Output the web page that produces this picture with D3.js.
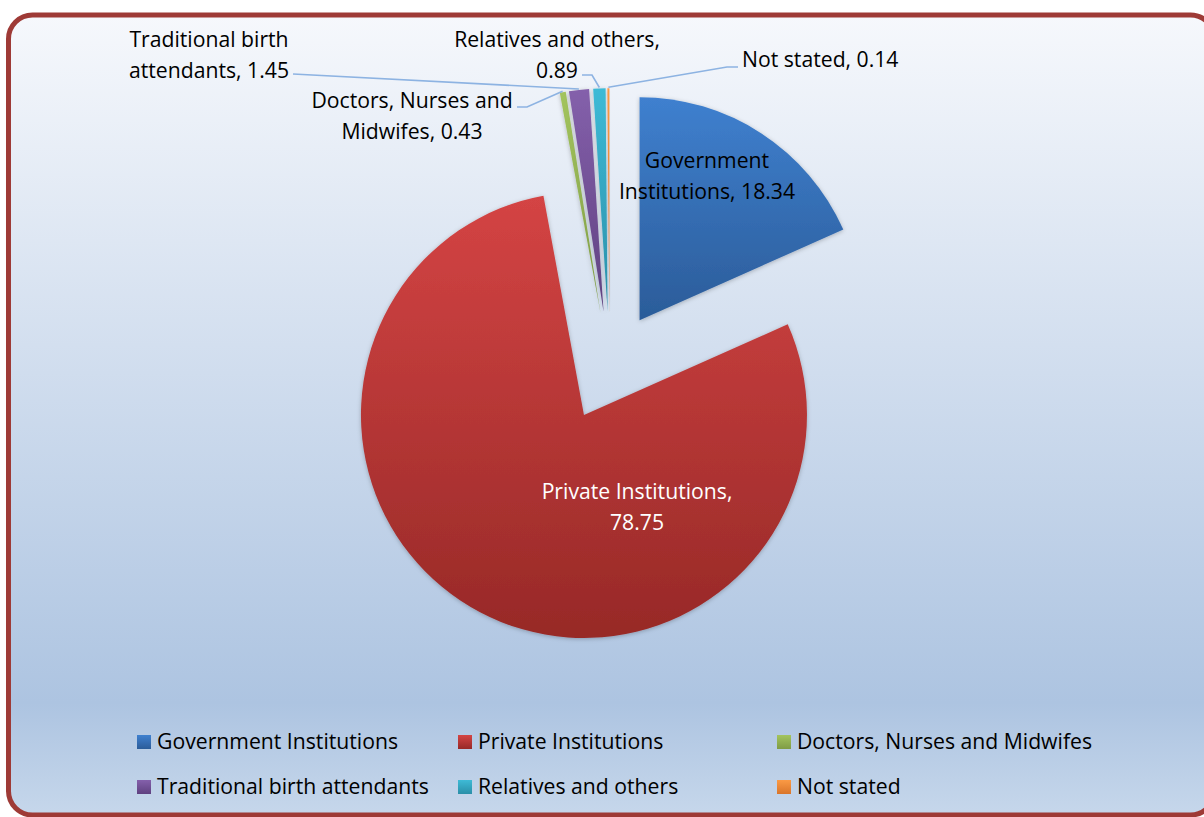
<!DOCTYPE html>
<html>
<head>
<meta charset="utf-8">
<script src="https://cdn.jsdelivr.net/npm/d3@7"></script>
<style>
  html, body { margin: 0; padding: 0; background: #ffffff; }
  svg { display: block; }
  text { font-family: "Open Sans", "Noto Sans", sans-serif; fill: #000; }
</style>
</head>
<body>
<svg id="chart" width="1204" height="817"></svg>
<script>
// ---- data ----
const categories = ["Government Institutions", "Private Institutions", "Doctors, Nurses and Midwifes",
                    "Traditional birth attendants", "Relatives and others", "Not stated"];
const values = [18.34, 78.75, 0.43, 1.45, 0.89, 0.14];
const labelLines = [
  ["Government", "Institutions, 18.34"],
  ["Private Institutions,", "78.75"],
  ["Doctors, Nurses and", "Midwifes, 0.43"],
  ["Traditional birth", "attendants, 1.45"],
  ["Relatives and others,", "0.89"],
  ["Not stated, 0.14"]
];
const colors = [
  ["#3f80cf", "#2b5c99"],
  ["#d44444", "#972927"],
  ["#a3c45e", "#7f9c45"],
  ["#8460ab", "#5f4180"],
  ["#3ebad6", "#2a8fa8"],
  ["#fb9a45", "#d9752a"]
];

// ---- layout ----
const W = 1204, H = 817;
const cx = 609.6, cy = 366.3, R = 223, explode = 55;
const fontSize = 21.2;

const svg = d3.select("#chart");
const defs = svg.append("defs");

// background gradient
const bg = defs.append("linearGradient").attr("id", "bg").attr("x1", 0).attr("y1", 0).attr("x2", 0).attr("y2", 1);
bg.append("stop").attr("offset", 0).attr("stop-color", "#f6f8fc");
bg.append("stop").attr("offset", 0.86).attr("stop-color", "#adc4e1");
bg.append("stop").attr("offset", 1).attr("stop-color", "#c6d7eb");

colors.forEach((c, i) => {
  const g = defs.append("linearGradient").attr("id", "g" + i)
    .attr("x1", 0).attr("y1", 0).attr("x2", 0).attr("y2", 1);
  g.append("stop").attr("offset", 0).attr("stop-color", c[0]);
  g.append("stop").attr("offset", 1).attr("stop-color", c[1]);
});

const f = defs.append("filter").attr("id", "shadow").attr("x", -0.2).attr("y", -0.2).attr("width", 1.4).attr("height", 1.4);
f.append("feDropShadow").attr("dx", 0).attr("dy", 1).attr("stdDeviation", 2)
  .attr("flood-color", "#000").attr("flood-opacity", 0.25);

// frame
svg.append("rect")
  .attr("x", 8.5).attr("y", 15).attr("width", 1206).attr("height", 800)
  .attr("rx", 24).attr("ry", 24)
  .attr("fill", "url(#bg)")
  .attr("stroke", "#9e3a36").attr("stroke-width", 5);

// pie
const pie = d3.pie().sort(null).value(d => d)(values);
const arc = d3.arc().innerRadius(0).outerRadius(R);

function offset(d) {
  const m = (d.startAngle + d.endAngle) / 2;
  return [explode * Math.sin(m), -explode * Math.cos(m)];
}

const slices = svg.append("g").attr("transform", `translate(${cx},${cy})`);
slices.selectAll("path").data(pie).join("path")
  .attr("transform", d => { const o = offset(d); return `translate(${o[0]},${o[1]})`; })
  .attr("d", arc)
  .attr("fill", (d, i) => `url(#g${i})`)
  .attr("stroke", "none")
  .attr("filter", "url(#shadow)");

// outer point of a slice (for leader lines)
function outerPoint(d, r) {
  const m = (d.startAngle + d.endAngle) / 2;
  const o = offset(d);
  return [cx + o[0] + r * Math.sin(m), cy + o[1] - r * Math.cos(m)];
}

// label placement (text anchor positions)
const labelPos = [
  { x: 707, y: 161, anchor: "middle", color: "#000" },
  { x: 637, y: 492, anchor: "middle", color: "#fff" },
  { x: 412, y: 101, anchor: "middle", color: "#000" },
  { x: 209, y: 40, anchor: "middle", color: "#000" },
  { x: 557, y: 40, anchor: "middle", color: "#000" },
  { x: 742, y: 60, anchor: "start", color: "#000" }
];
const lineH = 30.5;

// leader lines: [label attach point, elbow point]
const leaders = {
  2: [[517, 107], [527, 107]],
  3: [[293, 74], [293, 74]],
  4: [[582, 75], [592, 75]],
  5: [[738, 67], [727, 67]]
};
const lg = svg.append("g");
Object.keys(leaders).forEach(k => {
  const i = +k;
  const p = outerPoint(pie[i], R + 1);
  const pts = [leaders[k][0], leaders[k][1], p];
  lg.append("path")
    .attr("d", d3.line()(pts))
    .attr("fill", "none")
    .attr("stroke", "#8db3e2")
    .attr("stroke-width", 1.6);
});

const labels = svg.append("g");
labelLines.forEach((lines, i) => {
  const p = labelPos[i];
  const t = labels.append("text")
    .attr("text-anchor", p.anchor)
    .attr("font-size", fontSize)
    .style("fill", p.color);
  lines.forEach((s, j) => {
    t.append("tspan").attr("x", p.x).attr("y", p.y + j * lineH).attr("dy", "0.35em").text(s);
  });
});

// legend
const legCols = [137, 458, 777];
const legRows = [742, 787];
const leg = svg.append("g");
categories.forEach((c, i) => {
  const x = legCols[i % 3], y = legRows[Math.floor(i / 3)];
  leg.append("rect").attr("x", x).attr("y", y - 7).attr("width", 14).attr("height", 14)
    .attr("fill", `url(#g${i})`);
  leg.append("text").attr("x", x + 20).attr("y", y).attr("dy", "0.35em")
    .attr("font-size", fontSize).text(c);
});
</script>
</body>
</html>
